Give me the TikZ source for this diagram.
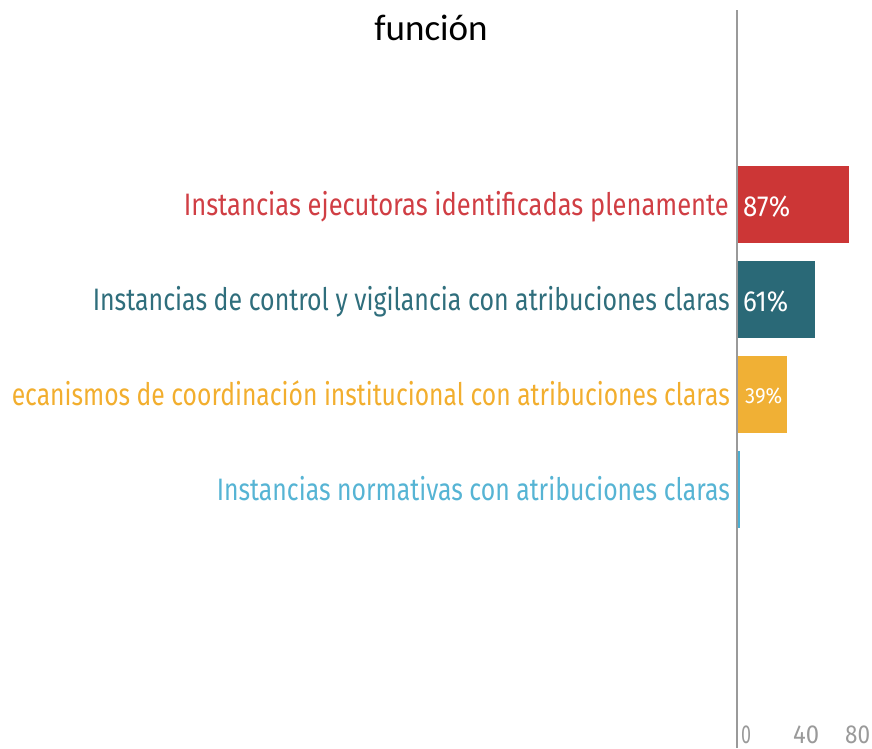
\documentclass[tikz,border=0pt]{standalone}
\usepackage{fontspec}
\setmainfont{Fira Sans}
\newfontfamily\titlefont{Carlito}
\usepackage{graphicx}
\definecolor{cred}{HTML}{CC3636}
\definecolor{cteal}{HTML}{2A6977}
\definecolor{cyel}{HTML}{F0B035}
\definecolor{cblue}{HTML}{4BAFD3}
\definecolor{tred}{HTML}{D03E44}
\definecolor{tteal}{HTML}{2F6E7C}
\definecolor{tyel}{HTML}{F2AE2E}
\definecolor{tblue}{HTML}{56B4D4}
\definecolor{axisgray}{HTML}{9A9A9A}
\begin{document}
\begin{tikzpicture}[x=1pt,y=-1pt,
  lab/.style={anchor=base east, inner sep=0pt, font=\fontsize{31}{31}\selectfont},
  pct/.style={anchor=base west, inner sep=0pt, text=white, font=\fontsize{29}{29}\selectfont},
  tick/.style={anchor=base west, inner sep=0pt, text=axisgray, font=\fontsize{26}{26}\selectfont}]
\useasboundingbox (0,0) rectangle (872,748);
\node[anchor=base, inner sep=0pt, font=\titlefont\fontsize{37}{37}\selectfont] (title) at (431,40) {función};
% bars
\fill[cred] (737,166) rectangle (849,243);
\fill[cteal] (737,261) rectangle (815,338);
\fill[cyel] (737,356) rectangle (787,433);
\fill[cblue] (737,451) rectangle (740,528);
% axis
\draw[axisgray, line width=1.6pt] (737,10) -- (737,748);
% labels
\node[lab, text=tred] (l1) at (729,215) {\resizebox{545pt}{\height}{Instancias ejecutoras identificadas plenamente}};
\node[lab, text=tteal] (l2) at (730,310) {\resizebox{637pt}{\height}{Instancias de control y vigilancia con atribuciones claras}};
\node[lab, text=tyel] (l3) at (730,405) {\resizebox{718pt}{\height}{ecanismos de coordinación institucional con atribuciones claras}};
\node[lab, text=tblue] (l4) at (730,500) {\resizebox{513pt}{\height}{Instancias normativas con atribuciones claras}};
% percentages
\node[pct] (p1) at (743,216) {\resizebox{47pt}{\height}{87\%}};
\node[pct] (p2) at (743,311) {\resizebox{45pt}{\height}{61\%}};
\node[pct, font=\fontsize{22}{22}\selectfont] (p3) at (745,403) {\resizebox{37pt}{\height}{39\%}};
% ticks
\node[tick] (t0) at (741,743) {\resizebox{10pt}{\height}{0}};
\node[tick] (t40) at (793,743) {\resizebox{26pt}{\height}{40}};
\node[tick] (t80) at (845,743) {\resizebox{25pt}{\height}{80}};
\end{tikzpicture}
\end{document}
